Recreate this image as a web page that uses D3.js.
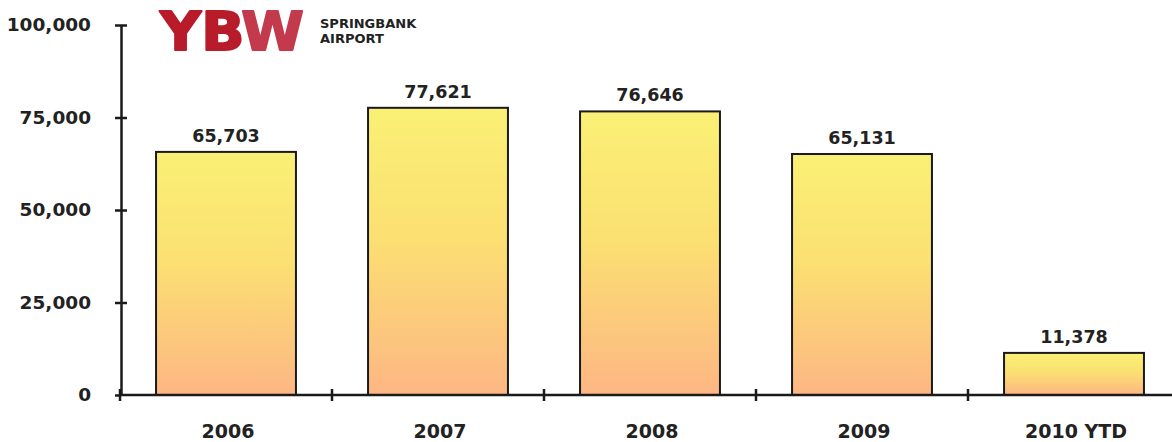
<!DOCTYPE html>
<html>
<head>
<meta charset="utf-8">
<script src="https://cdn.jsdelivr.net/npm/d3@7"></script>
<style>
  body { margin: 0; background: #fff; }
  svg { display: block; }
</style>
</head>
<body>
<div id="chartContainer"></div>
<script>
// chart values
const years = ["2006", "2007", "2008", "2009", "2010 YTD"];
const movements = [65703, 77621, 76646, 65131, 11378];
const yTicks = [0, 25000, 50000, 75000, 100000];

const width = 1172;
const height = 442;
const marginTop = 25;
const marginLeft = 121;
const axisY = 395;

const fontFam = "Tahoma, 'DejaVu Sans', Verdana, sans-serif";

const svg = d3.create("svg")
    .attr("width", width)
    .attr("height", height)
    .attr("viewBox", [0, 0, width, height]);

document.getElementById('chartContainer').appendChild(svg.node());

// gradient for the bars, yellow on top to orange at the bottom
const grad = svg.append("defs").append("linearGradient")
    .attr("id", "barGrad")
    .attr("x1", 0).attr("y1", 0)
    .attr("x2", 0).attr("y2", 1);
grad.append("stop").attr("offset", "0%").attr("stop-color", "#faf075");
grad.append("stop").attr("offset", "45%").attr("stop-color", "#fbe072");
grad.append("stop").attr("offset", "100%").attr("stop-color", "#fdb684");

const x = d3.scaleBand()
    .domain(years)
    .range([marginLeft - 1, 1180])
    .paddingInner(0.34)
    .paddingOuter(0.17);

const y = d3.scaleLinear()
    .domain([0, 100000])
    .range([axisY, marginTop]);

const data = years.map((yr, i) => ({ year: yr, value: movements[i] }));

// bars
svg.append("g")
    .selectAll("rect")
    .data(data)
    .join("rect")
    .attr("x", d => x(d.year))
    .attr("y", d => y(d.value))
    .attr("width", x.bandwidth())
    .attr("height", d => y(0) - y(d.value))
    .attr("fill", "url(#barGrad)")
    .attr("stroke", "#1a1a1a")
    .attr("stroke-width", 2);

// value labels
svg.append("g")
    .selectAll("text")
    .data(data)
    .join("text")
    .attr("x", d => x(d.year) + x.bandwidth() / 2)
    .attr("y", d => y(d.value) - 10)
    .attr("text-anchor", "middle")
    .attr("font-family", fontFam)
    .attr("font-weight", "bold")
    .attr("font-size", 17.5)
    .attr("fill", "#222")
    .text(d => d3.format(",")(d.value));

// y axis
const yAxis = svg.append("g")
    .attr("transform", `translate(${marginLeft},0)`)
    .call(d3.axisLeft(y).tickValues(yTicks).tickFormat(d3.format(",")).tickSizeInner(6).tickSizeOuter(0).tickPadding(24));
yAxis.select(".domain").attr("stroke", "#1a1a1a").attr("stroke-width", 2.5);
yAxis.selectAll(".tick line").attr("stroke", "#1a1a1a").attr("stroke-width", 2.5);
yAxis.selectAll(".tick text")
    .attr("font-family", fontFam)
    .attr("font-weight", "bold")
    .attr("font-size", 18.5)
    .attr("fill", "#222");

svg.append("g")
    .attr("transform", `translate(${marginLeft},0)`)
    .call(d3.axisRight(y).tickValues(yTicks.filter(v => v > 0)).tickFormat("").tickSizeInner(6).tickSizeOuter(0))
    .call(g => g.select(".domain").remove())
    .selectAll(".tick line").attr("stroke", "#1a1a1a").attr("stroke-width", 2.5);

// x axis
const gap = x.step() - x.bandwidth();
svg.append("line")
    .attr("x1", marginLeft - 1)
    .attr("x2", width)
    .attr("y1", axisY)
    .attr("y2", axisY)
    .attr("stroke", "#1a1a1a")
    .attr("stroke-width", 2.5);

svg.append("g")
    .selectAll("line")
    .data(years)
    .join("line")
    .attr("x1", d => x(d) - gap / 2)
    .attr("x2", d => x(d) - gap / 2)
    .attr("y1", axisY - 6)
    .attr("y2", axisY + 6)
    .attr("stroke", "#1a1a1a")
    .attr("stroke-width", 2.5);

svg.append("g")
    .selectAll("text")
    .data(years)
    .join("text")
    .attr("x", d => x(d) + x.bandwidth() / 2 + 2)
    .attr("y", 438)
    .attr("text-anchor", "middle")
    .attr("font-family", fontFam)
    .attr("font-weight", "bold")
    .attr("font-size", 19)
    .attr("fill", "#222")
    .text(d => d);

// logo
const logo = svg.append("g");
const ybw = logo.append("text")
    .attr("x", 160)
    .attr("y", 50)
    .attr("font-family", "'DejaVu Sans', Verdana, sans-serif")
    .attr("font-weight", "bold")
    .attr("font-size", 53)
    .attr("textLength", 144)
    .attr("lengthAdjust", "spacingAndGlyphs")
    .attr("stroke-width", 2)
    .attr("stroke-linejoin", "round");
ybw.append("tspan").attr("fill", "#b81b2a").attr("stroke", "#b81b2a").text("YB");
ybw.append("tspan").attr("fill", "#c23a4b").attr("stroke", "#c23a4b").text("W");
logo.append("text")
    .attr("x", 320)
    .attr("y", 28)
    .attr("font-family", fontFam)
    .attr("font-weight", "bold")
    .attr("font-size", 13)
    .attr("fill", "#222")
    .text("SPRINGBANK");
logo.append("text")
    .attr("x", 320)
    .attr("y", 43)
    .attr("font-family", fontFam)
    .attr("font-weight", "bold")
    .attr("font-size", 13)
    .attr("fill", "#222")
    .text("AIRPORT");
</script>
</body>
</html>
